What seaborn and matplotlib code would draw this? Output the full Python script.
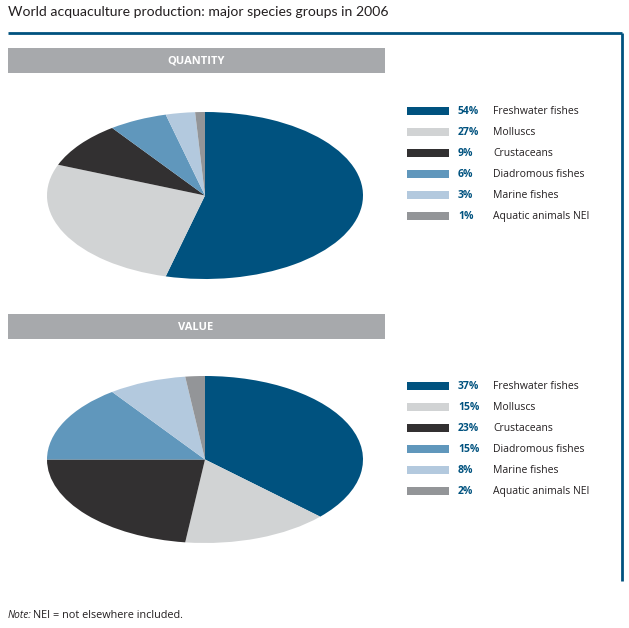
import matplotlib
matplotlib.use("Agg")
import matplotlib.pyplot as plt
import matplotlib.patches as mpatches
import seaborn as sns

# data
groups = ["Freshwater fishes", "Molluscs", "Crustaceans",
          "Diadromous fishes", "Marine fishes", "Aquatic animals NEI"]
quantity_pct = [54, 27, 9, 6, 3, 1]
value_pct = [37, 15, 23, 15, 8, 2]
colors = ["#00527f", "#d1d3d4", "#323031", "#6097bc", "#b3c9de", "#939598"]

title = "World acquaculture production: major species groups in 2006"

sns.set_theme(style="white")
plt.rcParams['font.family'] = ['Open Sans', 'DejaVu Sans']

W, H = 629, 628
fig = plt.figure(figsize=(W / 100, H / 100), dpi=100)

# background axes in pixel coordinates for frame, headers and legends
bg = fig.add_axes([0, 0, 1, 1])
bg.set_xlim(0, W)
bg.set_ylim(H, 0)
bg.axis("off")

blue = "#00527f"
bg.text(8, 12, title, fontsize=10.1, va="center", ha="left", color="#231f20",
        family=['Lato', 'DejaVu Sans'])
bg.plot([8, 621.5], [33, 33], color=blue, lw=2, solid_capstyle="butt")
bg.plot([621.5, 621.5], [33, 581], color=blue, lw=2, solid_capstyle="butt")

bg.text(8, 616, "Note:", fontsize=7.3, style="italic", va="center", ha="left", color="#231f20")
bg.text(33, 616, "NEI = not elsewhere included.", fontsize=7.8, va="center", ha="left", color="#231f20")


def section(header, header_y, pcts, pie_top, legend_top):
    bg.add_patch(mpatches.Rectangle((8, header_y), 377, 25, color="#a7a9ac", lw=0))
    bg.text(196, header_y + 13, header, color="white", fontsize=8, fontweight="bold",
            ha="center", va="center")

    ax = fig.add_axes([47 / W, 1 - (pie_top + 167) / H, 316 / W, 167 / H])
    ax.pie(pcts, colors=colors, startangle=90, counterclock=False,
           wedgeprops=dict(linewidth=0))
    ax.set_aspect("auto")
    ax.set_xlim(-1, 1)
    ax.set_ylim(-1, 1)
    ax.axis("off")

    for i, (g, p) in enumerate(zip(groups, pcts)):
        y = legend_top + i * 21
        bg.add_patch(mpatches.Rectangle((407, y - 4), 42, 8, color=colors[i], lw=0))
        bg.text(458, y + 0.5, f"{p}%", color=blue, fontsize=7.5, fontweight="bold",
                ha="left", va="center")
        bg.text(493, y + 0.5, g, color="#231f20", fontsize=7.5, ha="left", va="center")


section("QUANTITY", 48, quantity_pct, 112, 111)
section("VALUE", 314, value_pct, 376, 386)

fig.savefig("out.png", dpi=100)
